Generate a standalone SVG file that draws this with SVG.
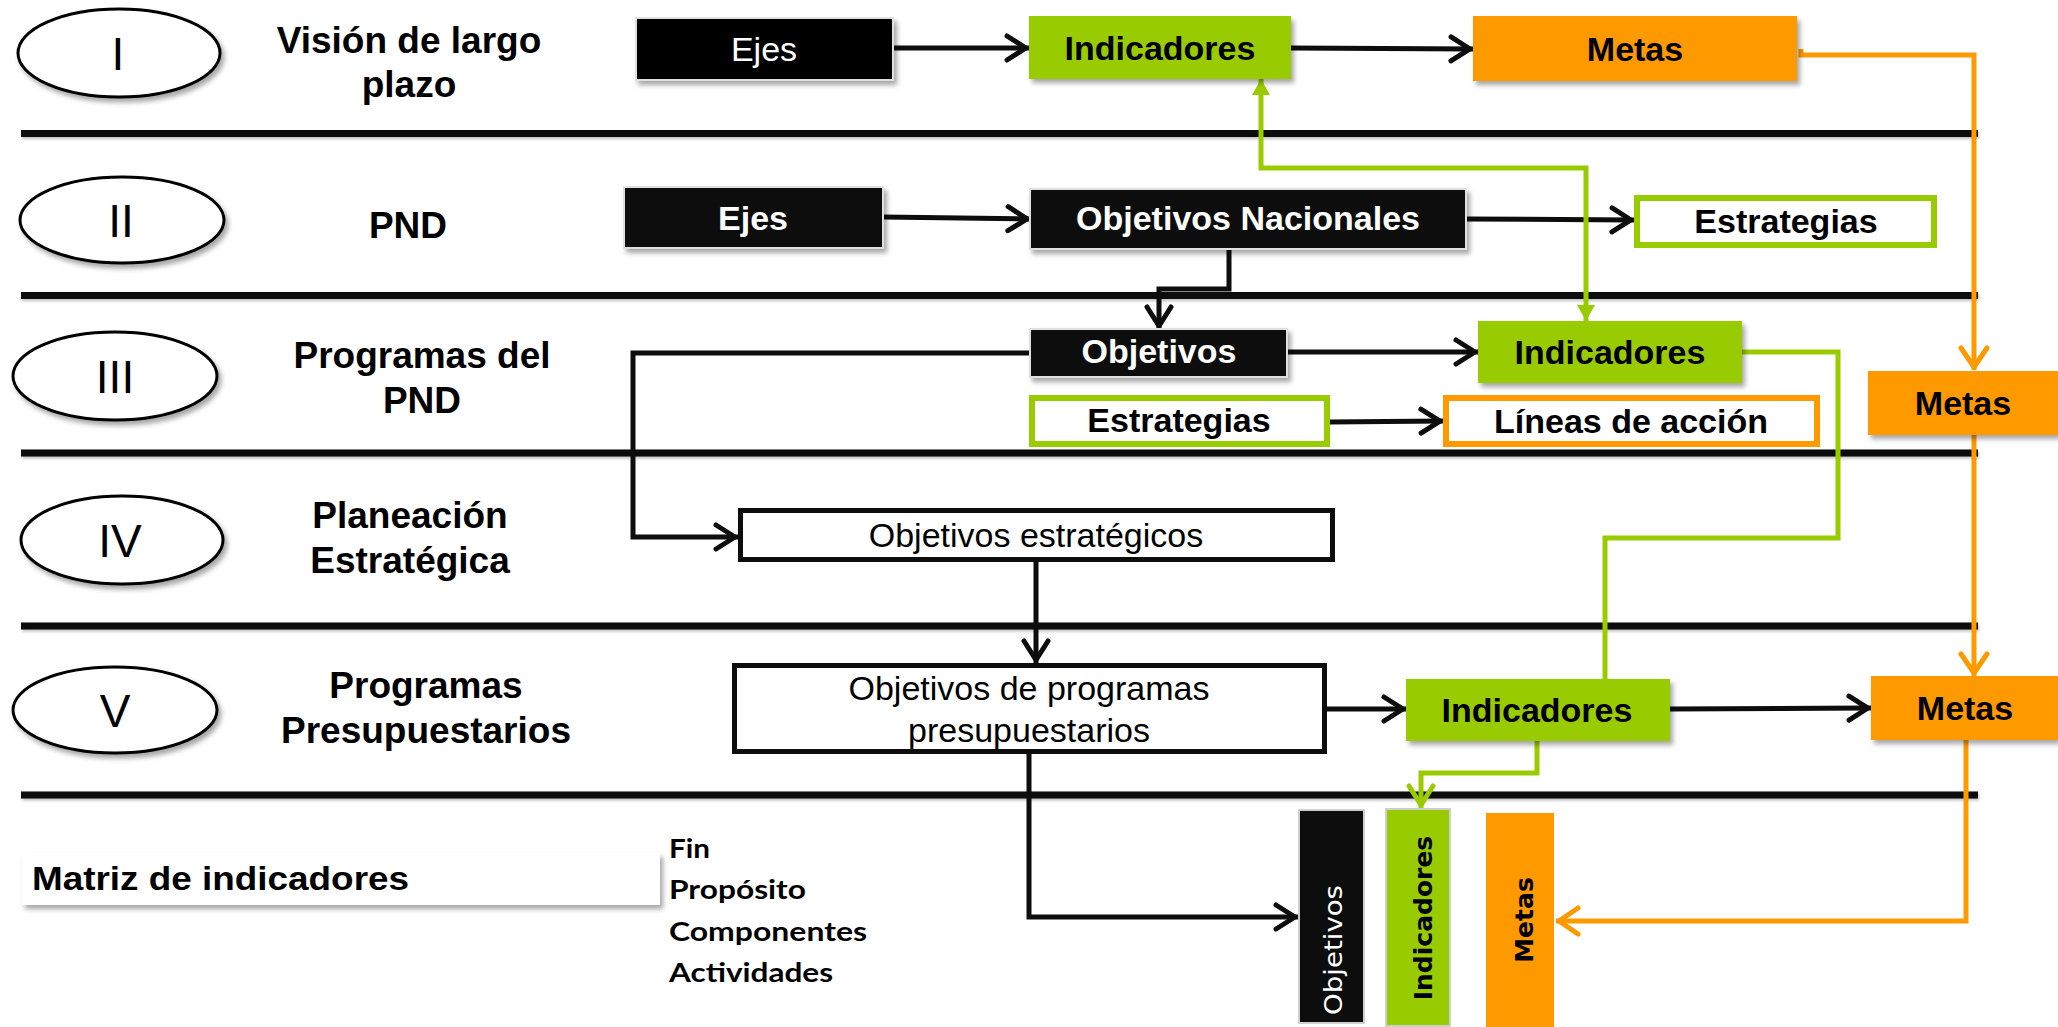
<svg xmlns="http://www.w3.org/2000/svg" width="2058" height="1027" viewBox="0 0 2058 1027">
<style>
text{font-family:"Liberation Sans",Arial,sans-serif;}
.title{font-size:37px;font-weight:bold;text-anchor:middle;fill:#000}
.nb{font-size:34px;font-weight:bold;text-anchor:middle}
.nr{font-size:34px;text-anchor:middle;fill:#000}
.w{fill:#fff}
.k{fill:#000}
.rom{font-size:46px;text-anchor:middle;fill:#000}
.vt{font-family:"DejaVu Sans",Verdana,sans-serif;font-size:25px;text-anchor:middle}
.lst{font-family:Lato,"Open Sans",sans-serif;font-weight:bold;font-size:26px;fill:#000}
.sep{stroke:#0d0d0d;stroke-width:7;fill:none}
.ell{fill:#fff;stroke:#000;stroke-width:3}
.cb{fill:none;stroke:#0d0d0d;stroke-width:5;marker-end:url(#ab)}
.cg{fill:none;stroke:#99cc00;stroke-width:5}
.co{fill:none;stroke:#ff9900;stroke-width:5;marker-end:url(#ao)}
</style>
<defs>
<filter id="sh" x="-10%" y="-20%" width="130%" height="160%">
<feDropShadow dx="3" dy="4" stdDeviation="2.5" flood-color="#000" flood-opacity="0.35"/>
</filter>
<filter id="shl" x="-5%" y="-100%" width="110%" height="400%">
<feDropShadow dx="1" dy="2" stdDeviation="1.5" flood-color="#000" flood-opacity="0.25"/>
</filter>
<marker id="ab" markerUnits="userSpaceOnUse" viewBox="-30 -16 34 32" refX="0" refY="0" markerWidth="34" markerHeight="32" orient="auto" overflow="visible">
<path d="M-22,-12 L-3,0 L-22,12" fill="none" stroke="#0d0d0d" stroke-width="5" stroke-linecap="round" stroke-linejoin="round"/>
</marker>
<marker id="ao" markerUnits="userSpaceOnUse" viewBox="-30 -16 34 32" refX="0" refY="0" markerWidth="34" markerHeight="32" orient="auto" overflow="visible">
<path d="M-22,-13 L-3,0 L-22,13" fill="none" stroke="#ff9900" stroke-width="5" stroke-linecap="round" stroke-linejoin="round"/>
</marker>
<marker id="ag" markerUnits="userSpaceOnUse" viewBox="-30 -16 34 32" refX="0" refY="0" markerWidth="34" markerHeight="32" orient="auto" overflow="visible">
<path d="M-22,-12 L-3,0 L-22,12" fill="none" stroke="#99cc00" stroke-width="5" stroke-linecap="round" stroke-linejoin="round"/>
</marker>
<marker id="tg" markerUnits="userSpaceOnUse" viewBox="-18 -10 20 20" refX="0" refY="0" markerWidth="20" markerHeight="20" orient="auto-start-reverse" overflow="visible">
<path d="M-16,-9 L0,0 L-16,9 Z" fill="#99cc00"/>
</marker>
</defs>
<rect width="2058" height="1027" fill="#fff"/>

<g id="separators" filter="url(#shl)">
<line class="sep" x1="21" y1="133.5" x2="1978" y2="133.5"/>
<line class="sep" x1="21" y1="295.5" x2="1978" y2="295.5"/>
<line class="sep" x1="21" y1="453" x2="1978" y2="453"/>
<line class="sep" x1="21" y1="626" x2="1978" y2="626"/>
<line class="sep" x1="21" y1="795" x2="1978" y2="795"/>
</g>

<g id="levels">
<g id="level-I">
<ellipse class="ell" cx="119" cy="53" rx="101" ry="44" filter="url(#sh)"/>
<text class="rom" x="118" y="70">I</text>
<text class="title" x="409" y="53">Visión de largo</text>
<text class="title" x="409" y="97">plazo</text>
</g>
<g id="level-II">
<ellipse class="ell" cx="122" cy="220" rx="102" ry="43" filter="url(#sh)"/>
<text class="rom" x="121" y="237">II</text>
<text class="title" x="408" y="238">PND</text>
</g>
<g id="level-III">
<ellipse class="ell" cx="115" cy="376" rx="102" ry="44" filter="url(#sh)"/>
<text class="rom" x="115" y="393">III</text>
<text class="title" x="422" y="368">Programas del</text>
<text class="title" x="422" y="413">PND</text>
</g>
<g id="level-IV">
<ellipse class="ell" cx="122" cy="540" rx="101" ry="44" filter="url(#sh)"/>
<text class="rom" x="120" y="557">IV</text>
<text class="title" x="410" y="528">Planeación</text>
<text class="title" x="410" y="573">Estratégica</text>
</g>
<g id="level-V">
<ellipse class="ell" cx="115" cy="710" rx="102" ry="43" filter="url(#sh)"/>
<text class="rom" x="115" y="727">V</text>
<text class="title" x="426" y="698">Programas</text>
<text class="title" x="426" y="743">Presupuestarios</text>
</g>
</g>

<g id="connectors">
<path class="cb" d="M893,48 L1029,48"/>
<path class="cb" d="M1291,48 L1473,49"/>
<path class="cb" d="M883,217 L1030,219"/>
<path class="cb" d="M1466,219 L1634,220"/>
<path class="cb" d="M1229,249 L1229,289 L1159,289 L1159,329"/>
<path class="cb" d="M1287,352 L1478,352"/>
<path class="cb" d="M1030,353 L633,353 L633,537 L738,537"/>
<path class="cb" d="M1330,422 L1443,421"/>
<path class="cb" d="M1036,562 L1036,663"/>
<path class="cb" d="M1327,709 L1406,709"/>
<path class="cb" d="M1670,709 L1871,708"/>
<path class="cb" d="M1029,754 L1029,917 L1298,917"/>
<path class="cg" d="M1261,79 L1261,168 L1586,168 L1586,321" marker-start="url(#tg)" marker-end="url(#tg)"/>
<path class="cg" d="M1742,352 L1838,352 L1838,538 L1605,538 L1605,679"/>
<path class="cg" d="M1537,741 L1537,773 L1421,773 L1421,808" marker-end="url(#ag)"/>
<path class="co" d="M1801,49 L1801,55 L1974,55 L1974,370"/>
<path class="co" d="M1974,435 L1974,676"/>
<path class="co" d="M1966,740 L1966,921 L1556,921"/>
</g>

<g id="nodes">
<g id="ejes-1">
<rect x="636" y="18" width="257" height="62" fill="#000" stroke="#e0e0e0" stroke-width="2" filter="url(#sh)"/>
<text class="nr w" x="764" y="61">Ejes</text>
</g>
<g id="indicadores-1">
<rect x="1029" y="16" width="262" height="63" fill="#99cc00" filter="url(#sh)"/>
<text class="nb k" x="1160" y="60">Indicadores</text>
</g>
<g id="metas-1">
<rect x="1473" y="16" width="324" height="65" fill="#ff9900" filter="url(#sh)"/>
<text class="nb k" x="1635" y="61">Metas</text>
</g>
<g id="ejes-2">
<rect x="624" y="187" width="259" height="61" fill="#0d0d0d" stroke="#e0e0e0" stroke-width="2" filter="url(#sh)"/>
<text class="nb w" x="753" y="230">Ejes</text>
</g>
<g id="objetivos-nacionales">
<rect x="1030" y="189" width="436" height="60" fill="#0d0d0d" stroke="#e0e0e0" stroke-width="2" filter="url(#sh)"/>
<text class="nb w" x="1248" y="230">Objetivos Nacionales</text>
</g>
<g id="estrategias-2">
<rect x="1637" y="198" width="297" height="47" fill="#fff" stroke="#99cc00" stroke-width="6"/>
<text class="nb k" x="1786" y="233">Estrategias</text>
</g>
<g id="objetivos-3">
<rect x="1030" y="329" width="257" height="48" fill="#0d0d0d" stroke="#e0e0e0" stroke-width="2" filter="url(#sh)"/>
<text class="nb w" x="1159" y="363">Objetivos</text>
</g>
<g id="indicadores-3">
<rect x="1478" y="321" width="264" height="62" fill="#99cc00" filter="url(#sh)"/>
<text class="nb k" x="1610" y="364">Indicadores</text>
</g>
<g id="estrategias-3">
<rect x="1032" y="398" width="295" height="46" fill="#fff" stroke="#99cc00" stroke-width="6"/>
<text class="nb k" x="1179" y="432">Estrategias</text>
</g>
<g id="lineas-accion">
<rect x="1446" y="398" width="371" height="46" fill="#fff" stroke="#ff9900" stroke-width="6"/>
<text class="nb k" x="1631" y="433">Líneas de acción</text>
</g>
<g id="metas-3">
<rect x="1868" y="371" width="190" height="64" fill="#ff9900" filter="url(#sh)"/>
<text class="nb k" x="1963" y="415">Metas</text>
</g>
<g id="objetivos-estrategicos">
<rect x="740.5" y="510.5" width="592" height="49" fill="#fff" stroke="#0d0d0d" stroke-width="5"/>
<text class="nr" x="1036" y="547">Objetivos estratégicos</text>
</g>
<g id="objetivos-programas">
<rect x="734.5" y="665.5" width="590" height="86" fill="#fff" stroke="#0d0d0d" stroke-width="5"/>
<text class="nr" x="1029" y="700">Objetivos de programas</text>
<text class="nr" x="1029" y="742">presupuestarios</text>
</g>
<g id="indicadores-5">
<rect x="1406" y="679" width="264" height="62" fill="#99cc00" filter="url(#sh)"/>
<text class="nb k" x="1537" y="722">Indicadores</text>
</g>
<g id="metas-5">
<rect x="1871" y="676" width="187" height="64" fill="#ff9900" filter="url(#sh)"/>
<text class="nb k" x="1965" y="720">Metas</text>
</g>
<g id="matriz">
<rect x="22" y="853" width="638" height="52" fill="#fff" filter="url(#sh)"/>
<text x="32" y="890" font-size="34" font-weight="bold" fill="#000" textLength="377" lengthAdjust="spacingAndGlyphs">Matriz de indicadores</text>
</g>
<g id="niveles-mir">
<text class="lst" x="669" y="858" textLength="41" lengthAdjust="spacingAndGlyphs">Fin</text>
<text class="lst" x="669" y="899" textLength="137" lengthAdjust="spacingAndGlyphs">Propósito</text>
<text class="lst" x="669" y="941" textLength="198" lengthAdjust="spacingAndGlyphs">Componentes</text>
<text class="lst" x="669" y="982" textLength="164" lengthAdjust="spacingAndGlyphs">Actividades</text>
</g>
<g id="objetivos-vertical">
<rect x="1299" y="810" width="65" height="213" fill="#0d0d0d" stroke="#cfcfcf" stroke-width="2"/>
<text class="vt" fill="#fff" transform="translate(1342,950) rotate(-90)" font-size="29" textLength="130" lengthAdjust="spacingAndGlyphs">Objetivos</text>
</g>
<g id="indicadores-vertical">
<rect x="1386" y="809" width="64" height="217" fill="#99cc00" stroke="#cfcfcf" stroke-width="2"/>
<text class="vt" fill="#000" font-weight="bold" transform="translate(1432,918) rotate(-90)">Indicadores</text>
</g>
<g id="metas-vertical">
<rect x="1486" y="813" width="68" height="214" fill="#ff9900"/>
<text class="vt" fill="#000" font-weight="bold" transform="translate(1533,920) rotate(-90)">Metas</text>
</g>
</g>
</svg>
